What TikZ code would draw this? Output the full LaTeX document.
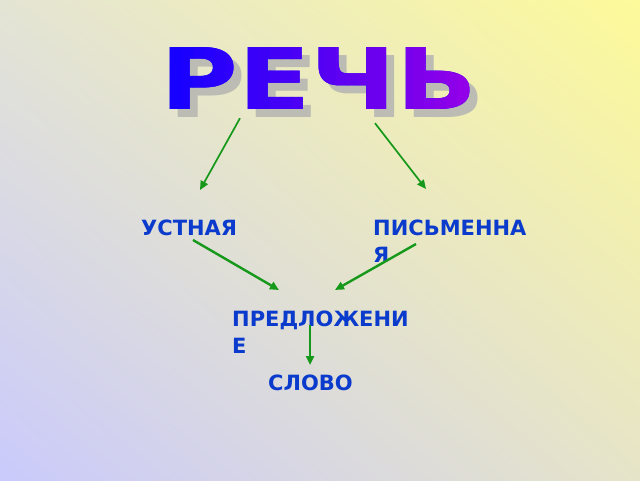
\documentclass[tikz,border=0pt]{standalone}
\usepackage{fontspec}
\setmainfont{DejaVu Sans}
\usetikzlibrary{arrows.meta,shadings}
\definecolor{bgtl}{HTML}{E4E4D4}
\definecolor{bgtr}{HTML}{FDFA9A}
\definecolor{bgbl}{HTML}{CACAFC}
\definecolor{bgbr}{HTML}{E6E4C8}
\definecolor{lblblue}{HTML}{0B3BCC}
\definecolor{arrgreen}{HTML}{16991A}
\definecolor{ttlleft}{HTML}{1400FF}
\definecolor{ttlright}{HTML}{9A00E6}
\definecolor{ttlshadow}{HTML}{BCBCB4}
\tikzset{
  lbl/.style={anchor=north west,inner sep=0pt,text=lblblue,align=left,
    font=\bfseries\fontsize{21}{27}\selectfont},
  ttl/.style={inner sep=0pt,xscale=1.25,font=\bfseries\fontsize{85}{85}\selectfont},
  arr/.style={draw=arrgreen,line width=2.4pt,-{Triangle[length=9pt,width=8pt]}},
  arrthin/.style={arr,line width=1.7pt}
}
\begin{document}
\begin{tikzpicture}[x=1pt,y=1pt]
\useasboundingbox (0,-480) rectangle (640,0);
\shade[upper left=bgtl,upper right=bgtr,lower left=bgbl,lower right=bgbr] (0,-480) rectangle (640,0);
\node[ttl,text=ttlshadow] (rechsh) at (327,-87) {РЕЧЬ};
\node[ttl,text=ttlleft] (rech) at (319,-79) {РЕЧЬ};
\foreach \i in {0,...,29}{
  \pgfmathtruncatemacro{\p}{\i*100/29}
  \begin{scope}
    \clip (160+\i*11,-40) rectangle ++(11.5,-80);
    \node[ttl,text=ttlright!\p!ttlleft] at (rech) {РЕЧЬ};
  \end{scope}
}
\node[lbl] (ustn) at (141,-220) {УСТНАЯ};
\node[lbl] (pism) at (373,-220) {ПИСЬМЕННА\\Я};
\node[lbl] (predl) at (232,-311) {ПРЕДЛОЖЕНИ\\Е};
\node[lbl] (slovo) at (268,-375) {СЛОВО};
\draw[arrthin] ([shift={(-79,-8)}]rech.south) -- ([shift={(59,30)}]ustn.north west);
\draw[arrthin] ([shift={(56,-13)}]rech.south) -- ([shift={(53,31)}]pism.north west);
\draw[arr] ([shift={(52,-20)}]ustn.north west) -- ([shift={(138,-70)}]ustn.north west);
\draw[arr] ([shift={(43,-24)}]pism.north west) -- ([shift={(103,21)}]predl.north west);
\draw[arr] ([shift={(78,-14)}]predl.north west) -- ([shift={(42,10)}]slovo.north west);
\end{tikzpicture}
\end{document}
